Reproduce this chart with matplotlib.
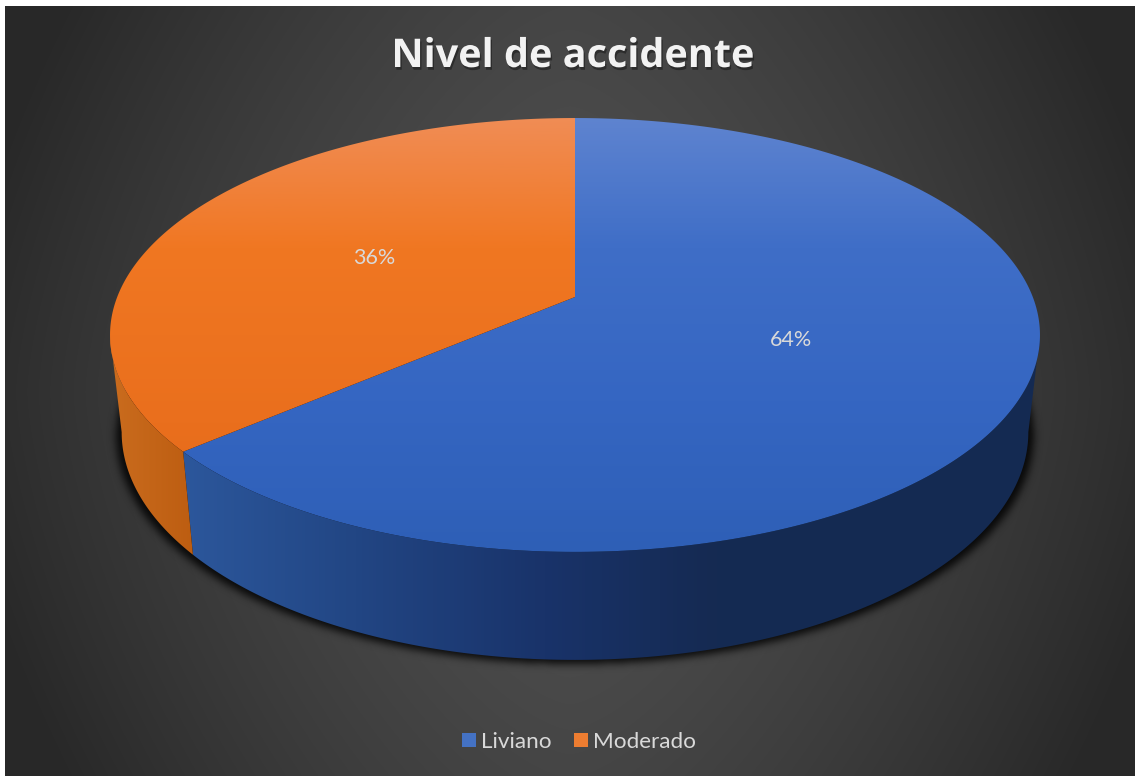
import numpy as np
import matplotlib
matplotlib.use("Agg")
import matplotlib.pyplot as plt
from matplotlib.patches import Polygon, Patch
from matplotlib.path import Path
from matplotlib.colors import LinearSegmentedColormap
import matplotlib.patheffects as pe

# ---- data
title = "Nivel de accidente"
categories = ["Liviano", "Moderado"]
values = [63.7, 36.3]
legend_colors = ["#4472c4", "#ed7d31"]

W, H = 1135, 776
fig = plt.figure(figsize=(W / 100, H / 100), dpi=100, facecolor="white")
ax = fig.add_axes([0, 0, 1, 1])
ax.set_xlim(0, W)
ax.set_ylim(H, 0)
ax.axis("off")

# ---- background
L, T = 5, 6
xx, yy = np.meshgrid(np.arange(L, W) + .5, np.arange(T, H) + .5)
dx = np.abs(xx - 570) / 565
dy = np.abs(yy - 392) / 386
bg = np.clip(80 - 34 * dx ** 1.5 - 11 * dy ** 1.5, 40, 255) / 255
ax.imshow(np.dstack([bg, bg, bg]), extent=(L, W, H, T), zorder=0, aspect="auto", interpolation="bilinear")

# ---- projection of the tilted disc
CX, CY, A, B, K = 575.0, 297.0, 457.8, 210.3, 0.175
SX, SY, D = 0.975, 1.05, 95.25


def rim(phi, r=1.0, lower=False):
    u, v = r * np.sin(phi), r * np.cos(phi)
    den = 1 + K * v
    x = A * u / den
    y = -B * v / den
    if lower:
        return CX + SX * x, CY + D + SY * y
    return CX + x, CY + y


def arc(a, b, n=300):
    return np.linspace(a, b, n)


fractions = np.array(values, dtype=float) / sum(values)
edges = np.concatenate([[0], np.cumsum(fractions)]) * 2 * np.pi
side_right = np.arccos(-K)
side_left = 2 * np.pi - side_right

# ---- shadow
full = arc(0, 2 * np.pi, 720)
sx, sy = rim(full, lower=True)
sx = CX + (sx - CX) * 1.012
sy = sy + 4
px = Path(np.column_stack([sx, sy]))
gy, gx = np.mgrid[0:H, 0:W]
mask = px.contains_points(np.column_stack([gx.ravel() + .5, gy.ravel() + .5])).reshape(H, W).astype(float)
kernel = np.exp(-0.5 * (np.arange(-12, 13) / 4.0) ** 2)
kernel /= kernel.sum()
mask = np.apply_along_axis(lambda m: np.convolve(m, kernel, mode="same"), 0, mask)
mask = np.apply_along_axis(lambda m: np.convolve(m, kernel, mode="same"), 1, mask)
rgba = np.zeros((H, W, 4))
rgba[..., 3] = mask * 0.85
ax.imshow(rgba, extent=(0, W, H, 0), zorder=1, aspect="auto")


def gradient(stops, vertical, extent, clip, z):
    cm = LinearSegmentedColormap.from_list("g", stops)
    g = np.linspace(0, 1, 256)
    g = g[:, None] if vertical else g[None, :]
    im = ax.imshow(g, cmap=cm, extent=extent, aspect="auto", zorder=z, vmin=0, vmax=1)
    poly = Polygon(clip, closed=True, transform=ax.transData, fc="none", ec="none")
    ax.add_patch(poly)
    im.set_clip_path(poly)


# ---- walls
wall_styles = [
    [(0.0, "#2c579c"), (0.2, "#224684"), (0.42, "#19336a"), (0.62, "#152a52"), (1.0, "#142a52")],
    [(0.0, "#cb6d1f"), (1.0, "#bc5c10")],
]
wall_extents = [(180, 1045, 670, 300), (105, 200, 570, 300)]
wall_ranges = [(side_right, edges[1]), (edges[1], side_left)]
for rng, st, ex in zip(wall_ranges, wall_styles, wall_extents):
    ph = arc(*rng)
    x1, y1 = rim(ph)
    x2, y2 = rim(ph[::-1], lower=True)
    clip = np.column_stack([np.r_[x1, x2], np.r_[y1, y2]])
    gradient(st, False, ex, clip, 2)

# ---- top faces
top_styles = [
    [(0.0, "#5f84d0"), (0.3, "#3f6ec7"), (0.65, "#3566c2"), (1.0, "#2e5fb6")],
    [(0.0, "#f08d56"), (0.3, "#f07722"), (0.7, "#ea6f1d"), (1.0, "#e06818")],
]
for i in range(len(values)):
    ph = arc(edges[i], edges[i + 1])
    x, y = rim(ph)
    clip = np.column_stack([np.r_[CX, x], np.r_[CY, y]])
    gradient(top_styles[i], True, (100, 1050, 555, 115), clip, 3)

# ---- percent labels
label_shift = [-3, 3]
for i, f in enumerate(fractions):
    mid = (edges[i] + edges[i + 1]) / 2
    x, y = rim(mid, r=0.5)
    ax.text(x, y + label_shift[i], f"{f:.0%}", color="#d9d9d9", fontsize=15.5, family="Lato",
            ha="center", va="center", zorder=5)

# ---- title
ax.text(573, 67, title, color="#f2f2f2", fontsize=28.5, family="Open Sans", fontweight="bold",
        ha="center", va="baseline", zorder=5,
        path_effects=[pe.withSimplePatchShadow(offset=(1, -2), shadow_rgbFace="black", alpha=0.35)])

# ---- legend
handles = [Patch(facecolor=c, edgecolor="none", label=n) for c, n in zip(legend_colors, categories)]
ax.legend(handles=handles, ncols=2, frameon=False, loc="center",
          bbox_to_anchor=(579 / W, 1 - 742 / H), bbox_transform=fig.transFigure,
          prop={"family": "Lato", "size": 16.2}, labelcolor="#d9d9d9",
          handlelength=0.63, handleheight=0.63, handletextpad=0.2, columnspacing=1.0,
          borderpad=0, borderaxespad=0)

ax.set_xlim(0, W)
ax.set_ylim(H, 0)
fig.savefig("out.png", dpi=100, facecolor="white")
